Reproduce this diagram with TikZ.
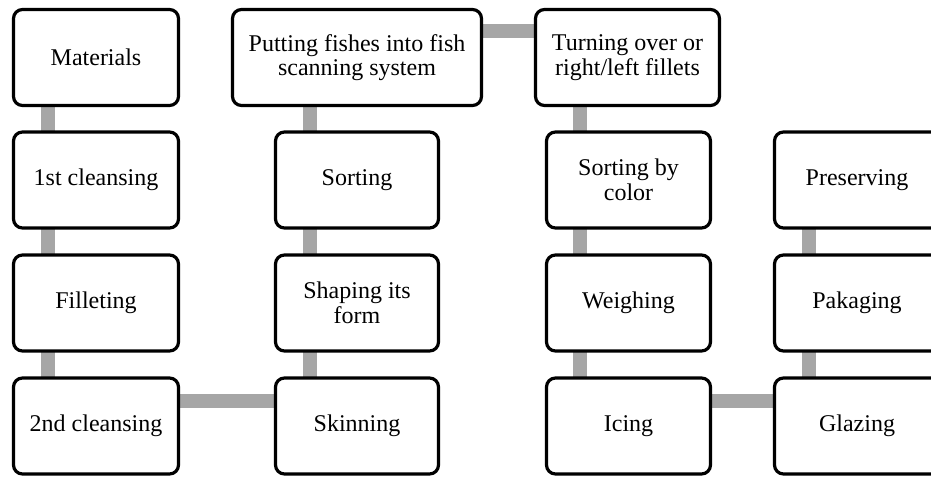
\documentclass[tikz,border=0pt]{standalone}
\usepackage{fontspec}
\setmainfont{Liberation Serif}
\usetikzlibrary{backgrounds}
\begin{document}
\begin{tikzpicture}[x=1pt,y=-1pt,
  box/.style={draw=black,line width=3.2pt,rounded corners=9pt,fill=white,
    minimum width=165pt,minimum height=96pt,inner sep=0pt,align=center,
    font=\fontsize{24}{24.5}\selectfont},
  conn/.style={draw={rgb,255:red,166;green,166;blue,166},line width=14pt}]
\path[use as bounding box,clip] (0,0) rectangle (931,477);
% column 1
\node[box] (mat) at (96,57.5) {Materials};
\node[box] (cl1) at (96,180) {1st cleansing};
\node[box] (fil) at (96,303) {Filleting};
\node[box] (cl2) at (96,426) {2nd cleansing};
% column 2
\node[box,minimum width=249pt] (put) at (357,57.5) {Putting fishes into fish\\scanning system};
\node[box,minimum width=163pt] (sor) at (357,180) {Sorting};
\node[box,minimum width=163pt] (sha) at (357,303) {Shaping its\\form};
\node[box,minimum width=163pt] (ski) at (357,426) {Skinning};
% column 3
\node[box,minimum width=184pt] (tur) at (627.5,57.5) {Turning over or\\right/left fillets};
\node[box,minimum width=164pt] (col) at (628.5,180) {Sorting by\\color};
\node[box,minimum width=164pt] (wei) at (628.5,303) {Weighing};
\node[box,minimum width=164pt] (ici) at (628.5,426) {Icing};
% column 4
\node[box] (pre) at (857,180) {Preserving};
\node[box] (pak) at (857,303) {Pakaging};
\node[box] (gla) at (857,426) {Glazing};
% connector guides
\coordinate (xa) at (47.5,0);
\coordinate (xb) at (309.5,0);
\coordinate (xc) at (580,0);
\coordinate (xd) at (808.5,0);
\coordinate (ytop) at (0,31);
\coordinate (ybot) at (0,401);
\begin{pgfonlayer}{background}
\draw[conn] (mat.center -| xa) -- (cl2.center -| xa);
\draw[conn] (cl2.center |- ybot) -- (ski.center |- ybot);
\draw[conn] (ski.center -| xb) -- (put.center -| xb);
\draw[conn] (put.center |- ytop) -- (tur.center |- ytop);
\draw[conn] (tur.center -| xc) -- (ici.center -| xc);
\draw[conn] (ici.center |- ybot) -- (gla.center |- ybot);
\draw[conn] (gla.center -| xd) -- (pre.center -| xd);
\end{pgfonlayer}
\end{tikzpicture}
\end{document}
